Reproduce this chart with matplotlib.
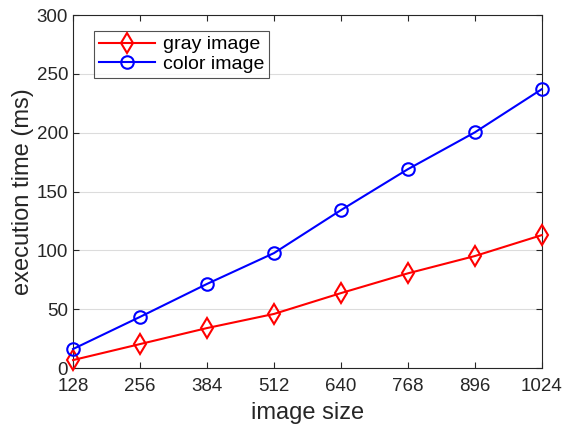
import matplotlib.pyplot as plt

# ============================================================
# Data
# ============================================================

image_size = [128, 256, 384, 512, 640, 768, 896, 1024]
gray_time = [6.8, 20.4, 34.0, 46.0, 63.7, 80.5, 95.2, 113.0]
color_time = [16.2, 43.5, 71.5, 97.7, 134.2, 169.0, 200.3, 237.0]

# ============================================================
# Plot
# ============================================================

plt.rcParams["font.family"] = "Liberation Sans"

fig = plt.figure(figsize=(5.62, 4.30), dpi=100)
ax = fig.add_axes([0.130, 0.144, 0.834, 0.821])

ax.plot(image_size, gray_time, color="#ff0000", linewidth=1.5, marker="d",
        markersize=10.5, markerfacecolor="none", markeredgewidth=1.5,
        label="gray image", clip_on=False, zorder=3)
ax.plot(image_size, color_time, color="#0000ff", linewidth=1.5, marker="o",
        markersize=9, markerfacecolor="none", markeredgewidth=1.5,
        label="color image", clip_on=False, zorder=3)

ax.set_xlim(128, 1024)
ax.set_ylim(0, 300)
ax.set_xticks(image_size)
ax.set_yticks(range(0, 301, 50))

ax.set_xlabel("image size", fontsize=17, color="#262626", labelpad=5)
ax.set_ylabel("execution time (ms)", fontsize=17, color="#262626", labelpad=2)

ax.tick_params(direction="in", top=True, right=True, labelsize=13.5,
               colors="#262626", length=4, width=0.8)
ax.tick_params(axis="x", pad=7)
for spine in ax.spines.values():
    spine.set_color("#262626")
    spine.set_linewidth(0.8)

ax.yaxis.grid(True, color="#dcdcdc", linewidth=0.8)
ax.set_axisbelow(True)

leg = ax.legend(loc="upper left", bbox_to_anchor=(0.045, 0.955), fontsize=14,
                frameon=True, fancybox=False, borderaxespad=0,
                handlelength=2.9, labelspacing=0.1, borderpad=0.25,
                handletextpad=0.4)
leg.get_frame().set_edgecolor("#262626")
leg.get_frame().set_linewidth(0.8)

fig.savefig("out.png", dpi=100)
